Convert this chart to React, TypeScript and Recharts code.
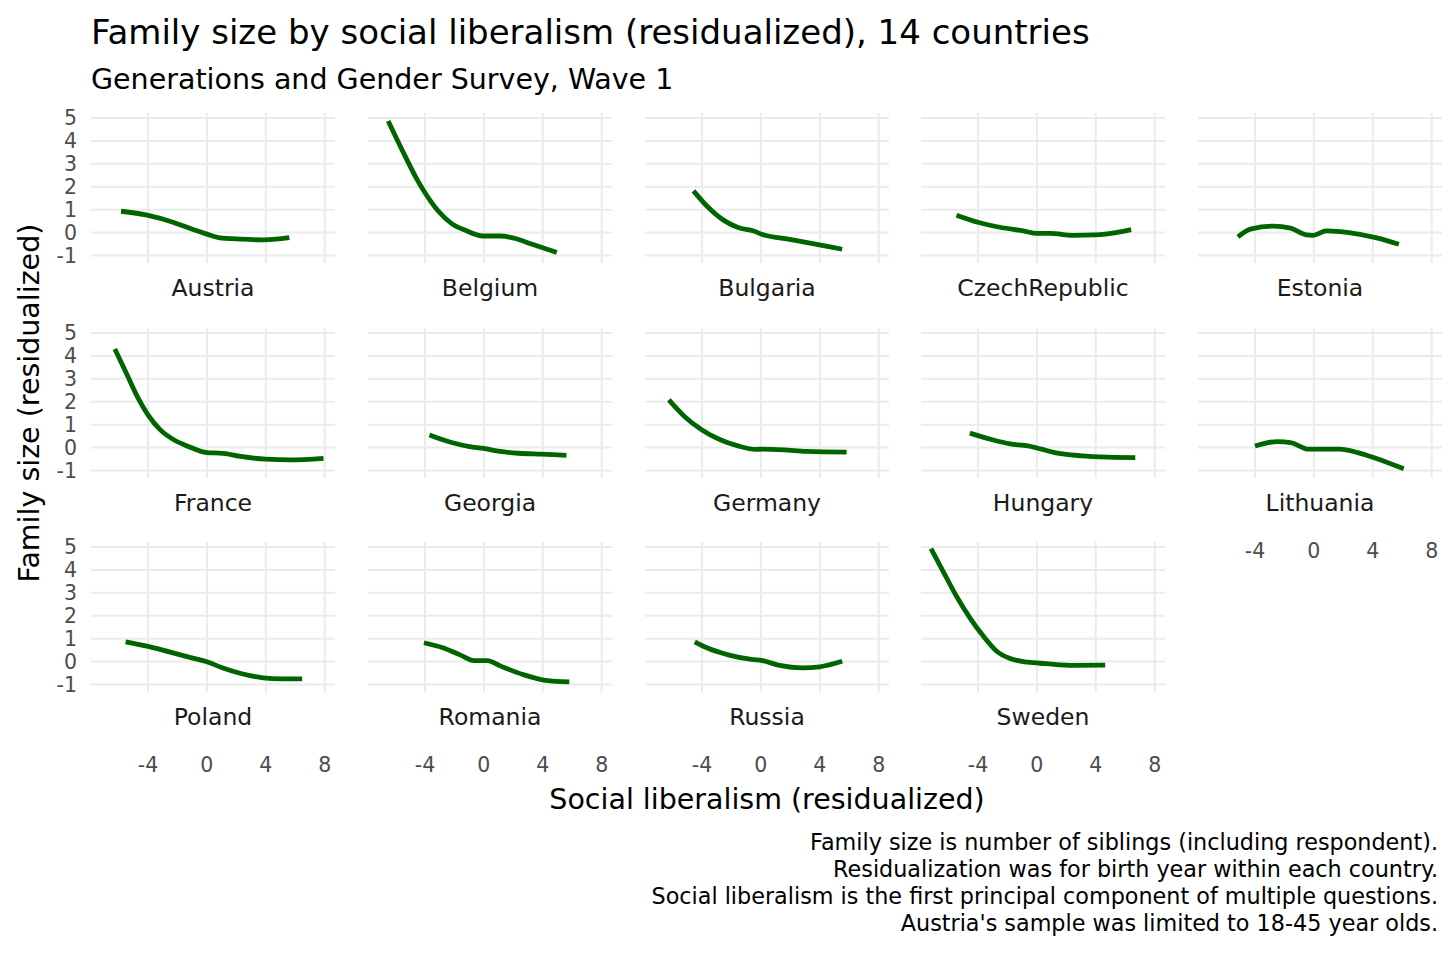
import React from "react";
import { LineChart, Line, XAxis, YAxis, CartesianGrid } from "recharts";

// smoothed curves, [x, y] pairs per country
const austria = [[-5.83, 0.93], [-4.06, 0.76], [-2.25, 0.44], [-1.03, 0.15], [0, -0.07], [0.79, -0.22], [2.3, -0.29], [3.8, -0.32], [4.7, -0.29], [5.6, -0.22]];
const belgium = [[-6.5, 4.87], [-5.52, 3.56], [-4.61, 2.4], [-4.0, 1.74], [-3.1, 0.94], [-2.19, 0.39], [-1.27, 0.1], [-0.06, -0.15], [1.15, -0.15], [2.06, -0.25], [3.28, -0.51], [4.95, -0.87]];
const bulgaria = [[-4.58, 1.82], [-3.67, 1.16], [-2.46, 0.51], [-1.55, 0.22], [-0.49, 0.07], [0.05, -0.07], [1.87, -0.29], [3.7, -0.51], [5.52, -0.73]];
const czech = [[-5.46, 0.76], [-3.95, 0.44], [-2.43, 0.22], [-0.91, 0.07], [0, -0.04], [0.91, -0.04], [2.43, -0.12], [3.95, -0.1], [5.46, 0.01], [6.4, 0.13]];
const estonia = [[-5.16, -0.19], [-4.31, 0.15], [-2.79, 0.28], [-1.58, 0.19], [-0.52, -0.1], [-0.06, -0.12], [0.85, 0.07], [2.37, 0.0], [4.19, -0.22], [5.77, -0.51]];
const france = [[-6.25, 4.3], [-5.58, 3.4], [-4.67, 2.16], [-4.0, 1.43], [-3.16, 0.77], [-2.25, 0.34], [-1.34, 0.07], [0, -0.22], [1.09, -0.25], [2.31, -0.39], [3.98, -0.51], [5.64, -0.54], [7.92, -0.47]];
const georgia = [[-3.7, 0.55], [-2.19, 0.22], [-0.97, 0.04], [0, -0.04], [0.85, -0.15], [2.37, -0.25], [3.88, -0.29], [5.61, -0.34]];
const germany = [[-6.25, 2.08], [-5.19, 1.36], [-4.0, 0.77], [-2.76, 0.34], [-1.55, 0.07], [-0.33, -0.08], [0.05, -0.07], [1.57, -0.1], [3.09, -0.17], [5.82, -0.2]];
const hungary = [[-4.55, 0.63], [-3.03, 0.34], [-1.82, 0.16], [-0.61, 0.07], [0.3, -0.07], [1.21, -0.22], [3.03, -0.36], [4.86, -0.42], [6.68, -0.44]];
const lithuania = [[-4.0, 0.07], [-2.49, 0.26], [-1.58, 0.22], [-0.36, -0.07], [0.55, -0.07], [1.76, -0.07], [2.97, -0.22], [4.19, -0.47], [6.1, -0.93]];
const poland = [[-5.52, 0.86], [-4.07, 0.67], [-2.55, 0.42], [-1.03, 0.16], [0, -0.01], [1.09, -0.28], [2.31, -0.52], [3.82, -0.71], [5.04, -0.76], [6.47, -0.76]];
const romania = [[-4.07, 0.82], [-2.79, 0.6], [-1.58, 0.28], [-0.67, 0.04], [0.24, 0.04], [1.15, -0.2], [2.67, -0.57], [4.19, -0.82], [5.8, -0.89]];
const russia = [[-4.49, 0.86], [-3.67, 0.6], [-2.15, 0.28], [-0.64, 0.09], [0.1, 0.04], [1.27, -0.17], [2.79, -0.28], [4.0, -0.23], [5.52, 0.01]];
const sweden = [[-7.19, 4.93], [-6.37, 3.94], [-5.46, 2.85], [-4.55, 1.91], [-3.64, 1.11], [-2.73, 0.45], [-1.82, 0.13], [-0.61, -0.03], [0.61, -0.09], [2.43, -0.17], [4.64, -0.16]];

const countries = ["Austria", "Belgium", "Bulgaria", "CzechRepublic", "Estonia", "France", "Georgia", "Germany", "Hungary", "Lithuania", "Poland", "Romania", "Russia", "Sweden"];
const curves = [austria, belgium, bulgaria, czech, estonia, france, georgia, germany, hungary, lithuania, poland, romania, russia, sweden];

const xTicks = [-4, 0, 4, 8];
const yTicks = [-1, 0, 1, 2, 3, 4, 5];

const captionLines = [
  "Family size is number of siblings (including respondent).",
  "Residualization was for birth year within each country.",
  "Social liberalism is the first principal component of multiple questions.",
  "Austria's sample was limited to 18-45 year olds.",
];

const FONT = "'DejaVu Sans', 'Liberation Sans', Arial, sans-serif";
const PW = 244;
const PH = 150;
const PAD = 16; // room above/below the plot so edge tick labels are not clipped
const colLeft = (c) => 91 + 276.8 * c;
const rowTop = (r) => 113.3 + 214.5 * r;

function Panel({ idx }) {
  const r = Math.floor(idx / 5);
  const c = idx % 5;
  const showY = c === 0;
  const showX = r === 2 || idx === 9;
  const yW = showY ? 70 : 0;
  const xH = showX ? 90 : 0;
  const data = curves[idx].map(([x, y]) => ({ x, y }));
  const left = Math.round(colLeft(c)) - yW;
  const top = Math.round(rowTop(r));
  return (
    <>
      <div style={{ position: "absolute", left, top: top - PAD }}>
        <LineChart
          width={PW + yW}
          height={PH + xH + PAD * 2}
          data={data}
          margin={{ top: PAD, right: 0, bottom: PAD, left: 0 }}
          style={{ fontFamily: FONT }}
        >
          <CartesianGrid stroke="#ebebeb" strokeWidth={2} syncWithTicks />
          <XAxis
            type="number"
            dataKey="x"
            domain={[-7.87, 8.7]}
            allowDataOverflow
            ticks={xTicks}
            interval={0}
            hide={!showX}
            height={xH}
            axisLine={false}
            tickLine={false}
            tickSize={0}
            tickMargin={65}
            tick={{ fontSize: 20.5, fill: "#4d4d4d" }}
          />
          <YAxis
            type="number"
            domain={[-1.33, 5.22]}
            allowDataOverflow
            ticks={yTicks}
            interval={0}
            hide={!showY}
            width={yW}
            axisLine={false}
            tickLine={false}
            tickSize={0}
            tickMargin={14}
            tick={{ fontSize: 20.5, fill: "#4d4d4d" }}
          />
          <Line
            type="monotone"
            dataKey="y"
            stroke="#006400"
            strokeWidth={4.8}
            dot={false}
            isAnimationActive={false}
          />
        </LineChart>
      </div>
      <div
        style={{
          position: "absolute",
          left: Math.round(colLeft(c)),
          width: PW,
          top: top + PH + 25 - 14,
          height: 28,
          lineHeight: "28px",
          textAlign: "center",
          fontSize: 23.5,
          color: "#1a1a1a",
          whiteSpace: "nowrap",
        }}
      >
        {countries[idx]}
      </div>
    </>
  );
}

export default function App() {
  return (
    <div
      style={{
        position: "absolute",
        left: 0,
        top: 0,
        width: 1456,
        height: 955,
        background: "#fff",
        fontFamily: FONT,
        color: "#000",
        overflow: "hidden",
      }}
    >
      <div style={{ position: "absolute", left: 91, top: 13, fontSize: 34, lineHeight: "38px", whiteSpace: "nowrap" }}>
        Family size by social liberalism (residualized), 14 countries
      </div>
      <div style={{ position: "absolute", left: 91, top: 64, fontSize: 28.5, lineHeight: "32px", whiteSpace: "nowrap" }}>
        Generations and Gender Survey, Wave 1
      </div>
      {countries.map((_, i) => (
        <Panel key={i} idx={i} />
      ))}
      <div
        style={{
          position: "absolute",
          left: 91,
          width: 1352,
          top: 784,
          lineHeight: "32px",
          fontSize: 28.5,
          textAlign: "center",
          whiteSpace: "nowrap",
        }}
      >
        Social liberalism (residualized)
      </div>
      <div
        style={{
          position: "absolute",
          left: 30 - 200,
          top: 403 - 16,
          width: 400,
          height: 32,
          lineHeight: "32px",
          fontSize: 28.5,
          textAlign: "center",
          transform: "rotate(-90deg)",
          whiteSpace: "nowrap",
        }}
      >
        Family size (residualized)
      </div>
      <div
        style={{
          position: "absolute",
          right: 18,
          top: 829,
          fontSize: 22.3,
          lineHeight: "27px",
          textAlign: "right",
          whiteSpace: "nowrap",
        }}
      >
        {captionLines.map((l) => (
          <div key={l}>{l}</div>
        ))}
      </div>
    </div>
  );
}
